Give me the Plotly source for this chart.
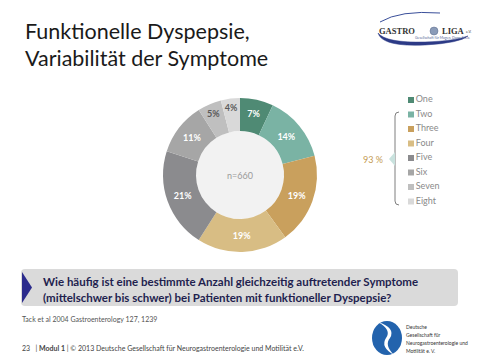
import plotly.graph_objects as go

# ---- data ----
categories = ["One", "Two", "Three", "Four", "Five", "Six", "Seven", "Eight"]
shares = [7, 14, 19, 19, 21, 11, 5, 4]
colors = ["#4f8a74", "#7ab3a4", "#c9a05d", "#d8bd84", "#8b8b8e", "#a6a6a6", "#bfbfbf", "#d9d9d9"]
label_colors = ["white", "white", "white", "white", "white", "white", "#595959", "#595959"]
sample_label = "n=660"
bracket_label = "93 %"
title_lines = ["Funktionelle Dyspepsie,", "Variabilität der Symptome"]
question_lines = ["Wie häufig ist eine bestimmte Anzahl gleichzeitig auftretender Symptome",
                  "(mittelschwer bis schwer) bei Patienten mit funktioneller Dyspepsie?"]
source_text = "Tack et al 2004 Gastroenterology 127, 1239"
footer_text = "23   | <b>Modul 1</b> | © 2013 Deutsche Gesellschaft für Neurogastroenterologie und Motilität e.V."
dgnm_lines = ["Deutsche", "Gesellschaft für", "Neurogastroenterologie und", "Motilität e. V."]

W, H = 480, 360
cx, cy, R, r_in = 240, 175, 77, 44

fig = go.Figure()

fig.add_trace(go.Pie(
    labels=categories, values=shares, sort=False, direction="clockwise", rotation=0,
    hole=r_in / R,
    marker=dict(colors=colors, line=dict(width=0)),
    text=[f"{v}%" for v in shares], textinfo="text",
    textposition="inside", insidetextorientation="horizontal",
    textfont=dict(family="Lato", size=9, color=label_colors, weight="bold"),
    domain=dict(x=[(cx - R) / W, (cx + R) / W], y=[(H - cy - R) / H, (H - cy + R) / H]),
    showlegend=False, hoverinfo="label+percent",
))

# legend drawn as a scatter on pixel-scaled overlay axes
leg_x0, leg_y0, leg_dy = 411, 100, 14.5
leg_y = [leg_y0 + i * leg_dy for i in range(len(categories))]
fig.add_trace(go.Scatter(
    x=[leg_x0] * len(categories), y=leg_y, mode="markers+text",
    marker=dict(symbol="square", size=6, color=colors),
    text=categories, textposition="middle right",
    textfont=dict(family="Lato", size=9, color="#8a8a8a"),
    showlegend=False, hoverinfo="skip",
))

fig.update_layout(
    width=W, height=H, margin=dict(l=0, r=0, t=0, b=0),
    paper_bgcolor="white", plot_bgcolor="rgba(0,0,0,0)",
    xaxis=dict(range=[0, W], visible=False, fixedrange=True),
    yaxis=dict(range=[H, 0], visible=False, fixedrange=True),
)

shapes = []
# inner hole fill
shapes.append(dict(type="circle", xref="x", yref="y", x0=cx - r_in, x1=cx + r_in,
                   y0=cy - r_in, y1=cy + r_in, fillcolor="#f2f2f2", line=dict(width=0), layer="below"))
# bracket
shapes.append(dict(type="path", xref="x", yref="y",
                   path="M 399 112 Q 395 112 395 116 L 395 201 Q 395 205 399 205",
                   line=dict(color="#7f7f7f", width=1)))
shapes.append(dict(type="path", xref="x", yref="y",
                   path="M 395 152 L 389 159 L 395 166 Z",
                   fillcolor="#c9e2de", line=dict(width=0)))
# question banner
shapes.append(dict(type="path", xref="x", yref="y",
                   path="M 25 269 L 454 269 Q 458 269 458 273 L 458 302 Q 458 306 454 306 L 25 306 Q 21 306 21 302 L 21 273 Q 21 269 25 269 Z",
                   fillcolor="#dadada", line=dict(width=0), layer="below"))
shapes.append(dict(type="path", xref="x", yref="y",
                   path="M 22 272 L 32 287.5 L 22 303 Z", fillcolor="#2b2b8c", line=dict(width=0)))
# Gastro-Liga logo swooshes
shapes.append(dict(type="path", xref="x", yref="y",
                   path="M 380 22 Q 400 10 440 13", line=dict(color="#3a4f9a", width=1)))
shapes.append(dict(type="path", xref="x", yref="y",
                   path="M 378 33 Q 382 47 425 45 Q 460 43 468 36 Q 455 41 425 42 Q 386 43 378 33 Z",
                   fillcolor="#2c3a86", line=dict(color="#2c3a86", width=0.5)))
shapes.append(dict(type="circle", xref="x", yref="y", x0=430, x1=438, y0=27, y1=35,
                   fillcolor="#8a9bb8", line=dict(color="#5a6a8a", width=0.5)))
# DGNM logo
shapes.append(dict(type="circle", xref="x", yref="y", x0=372, x1=402, y0=321, y1=355,
                   fillcolor="#2363ad", line=dict(width=0)))
shapes.append(dict(type="path", xref="x", yref="y",
                   path="M 378 322 Q 392 330 386 338 Q 380 347 394 355 Q 384 345 390 338 Q 396 328 378 322 Z",
                   fillcolor="white", line=dict(width=0)))
fig.update_layout(shapes=shapes)

ann = []
def add_text(x, y, text, size, color, family="Lato", xanchor="left", weight="normal"):
    ann.append(dict(x=x, y=y, xref="x", yref="y", text=text, showarrow=False,
                    xanchor=xanchor, yanchor="middle",
                    font=dict(family=family, size=size, color=color, weight=weight)))

add_text(23, 31, title_lines[0], 21.5, "#1a1a1a")
add_text(23, 58, title_lines[1], 21.5, "#1a1a1a")
add_text(cx, cy, sample_label, 9, "#9a9a9a", xanchor="center")
add_text(373, 159, bracket_label, 9, "#c49a52", xanchor="center")
add_text(41, 281, question_lines[0], 11.5, "#1f1f4f", weight="bold")
add_text(41, 297, question_lines[1], 11.5, "#1f1f4f", weight="bold")
add_text(20, 319, source_text, 7, "#555555")
add_text(20, 348, footer_text, 7, "#444444")
for i, line in enumerate(dgnm_lines):
    add_text(404, 327 + i * 8, line, 5, "#333333")
add_text(377, 31, "GASTRO", 8.5, "#333333", family="Liberation Serif", weight="bold")
add_text(440, 31, "LIGA", 8.5, "#333333", family="Liberation Serif", weight="bold")
add_text(464, 32, "e.V.", 3.5, "#333333")
add_text(413, 38, "Gesellschaft für Magen, Darm & Co.", 3.5, "#5a6a9a")
fig.update_layout(annotations=ann)

fig.write_html("out.html", config={"displayModeBar": False},
               post_script="document.body.style.margin='0';document.body.style.overflow='hidden';")
